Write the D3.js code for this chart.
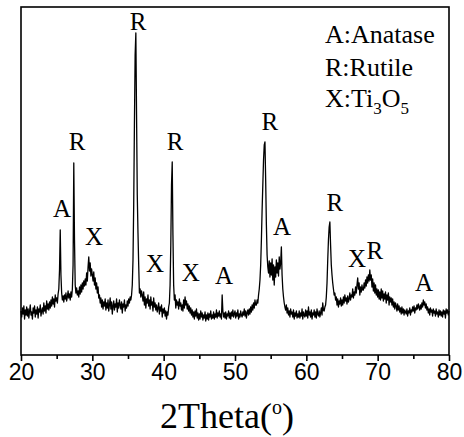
<!DOCTYPE html>
<html>
<head>
<meta charset="utf-8">
<script src="https://cdn.jsdelivr.net/npm/d3@7"></script>
<style>
  html, body { margin: 0; padding: 0; background: #fff; }
  svg { display: block; }
</style>
</head>
<body>
<svg id="chart" width="464" height="437"></svg>
<script>
// XRD pattern, 2θ from 20° to 80° sampled every 0.1° (arbitrary intensity units)
const twoThetaStart = 20;
const twoThetaStep = 0.1;
const intensity = [
  44,38,47,41,49,36,45,40,48,39,   // 20
  46,37,44,50,40,43,36,47,42,49,   // 21
  38,45,41,48,37,46,43,50,39,44,   // 22
  47,41,52,44,49,42,54,46,51,45,   // 23
  53,47,55,49,58,51,56,48,60,54,   // 24
  57,52,61,66,85,125,80,62,55,59,  // 25
  53,60,56,62,54,58,64,57,61,55,   // 26
  63,58,66,90,192,115,70,62,67,60, // 27
  64,58,68,61,70,63,72,66,74,69,   // 28
  76,70,82,74,88,98,84,92,79,86,   // 29
  80,74,83,70,77,66,72,62,68,57,   // 30
  60,52,57,48,55,46,53,49,56,45,   // 31
  52,47,55,44,50,57,46,53,41,49,   // 32
  54,45,51,48,56,43,52,47,55,50,   // 33
  46,53,42,51,48,55,44,50,47,54,   // 34
  49,56,52,58,55,60,70,95,150,230, // 35
  300,322,240,160,122,90,62,66,58,64, // 36
  60,54,63,50,58,47,56,52,60,49,   // 37
  55,46,58,50,53,44,57,48,52,45,   // 38
  50,43,47,52,41,48,44,50,38,46,   // 39
  42,47,39,44,36,43,40,48,52,70,   // 40
  110,170,193,120,70,55,60,47,55,50, // 41
  53,46,56,49,52,45,50,44,55,47,   // 42
  58,50,54,46,51,44,49,42,47,40,   // 43
  45,38,43,36,44,39,46,37,42,35,   // 44
  41,36,44,38,42,35,40,37,43,34,   // 45
  40,36,42,35,41,38,44,36,40,37,   // 46
  43,36,41,38,45,37,42,39,44,38,   // 47
  41,36,60,44,38,42,37,43,36,41,   // 48
  39,44,37,42,36,43,39,45,38,41,   // 49
  44,37,42,39,45,36,41,38,44,40,   // 50
  38,43,40,46,39,44,37,42,45,40,   // 51
  46,41,48,43,50,45,52,47,55,50,   // 52
  50,55,52,60,66,75,90,115,145,170, // 53
  195,210,213,175,130,100,88,82,94,78, // 54
  92,80,96,75,90,70,88,78,95,82,   // 55
  92,79,98,86,92,108,80,66,58,52,  // 56
  48,45,50,42,47,40,44,38,46,41,   // 57
  43,38,45,36,42,39,44,37,41,38,   // 58
  44,37,42,39,46,36,43,40,38,45,   // 59
  39,44,37,48,40,43,38,45,36,42,   // 60
  40,45,38,43,37,46,41,39,44,38,   // 61
  42,47,40,52,45,44,48,50,58,72,   // 62
  95,115,128,133,110,90,80,72,66,60, // 63
  62,55,58,50,56,48,54,51,57,49,   // 64
  55,50,58,52,60,54,57,51,59,53,   // 65
  56,62,55,60,58,66,57,63,60,68,   // 66
  62,70,77,66,72,60,68,63,70,65,   // 67
  65,72,67,75,69,78,72,80,74,85,   // 68
  75,80,68,76,64,72,62,70,60,66,   // 69
  58,65,56,63,55,66,57,64,54,61,   // 70
  56,63,52,60,55,62,50,58,53,57,   // 71
  50,56,48,53,46,52,49,44,51,45,   // 72
  49,43,47,41,48,42,46,40,45,43,   // 73
  41,46,39,44,42,47,40,45,43,48,   // 74
  44,49,42,47,45,50,46,51,48,45,   // 75
  50,46,52,48,55,50,53,47,51,45,   // 76
  48,42,46,40,47,43,45,39,46,42,   // 77
  44,39,46,41,43,38,45,40,44,39,   // 78
  43,38,45,41,44,37,46,42,45,40,   // 79
  44                               // 80
];

// Phase labels above the peaks
const peakLabels      = ["A", "R", "X", "R", "X", "R", "X", "A", "R", "A", "R", "X", "R", "A"];
const peakLabelTheta  = [25.75, 27.85, 30.23, 36.4, 38.8, 41.6, 43.8, 48.45, 54.9, 56.6, 64.0, 67.1, 69.6, 76.5];
const peakLabelHeight = [138, 205, 110, 325, 83, 205, 74, 71, 225, 120, 144, 88, 96, 64];

// Axis ticks
const majorTicks = [20, 30, 40, 50, 60, 70, 80];
const minorTicks = [25, 35, 45, 55, 65, 75];

// Legend entries, with subscripted formula parts
const legendLines = [
  [{ t: "A:Anatase" }],
  [{ t: "R:Rutile" }],
  [{ t: "X:Ti" }, { t: "3", sub: true }, { t: "O" }, { t: "5", sub: true }]
];

const svg = d3.select("#chart");
const plot = { left: 21, right: 449, top: 7, bottom: 355 };

const x = d3.scaleLinear().domain([20, 80]).range([plot.left, plot.right]);
const y = d3.scaleLinear().domain([0, 348]).range([plot.bottom, plot.top]);

const points = intensity.map((v, i) => [twoThetaStart + i * twoThetaStep, v]);

// Pattern trace
svg.append("path")
  .datum(points)
  .attr("fill", "none")
  .attr("stroke", "#000")
  .attr("stroke-width", 1.3)
  .attr("stroke-linejoin", "round")
  .attr("d", d3.line().x(d => x(d[0])).y(d => y(d[1])));

// Frame
svg.append("rect")
  .attr("x", plot.left).attr("y", plot.top)
  .attr("width", plot.right - plot.left).attr("height", plot.bottom - plot.top)
  .attr("fill", "none").attr("stroke", "#000").attr("stroke-width", 1.6);

// Bottom axis: major ticks with labels
const gx = svg.append("g")
  .attr("transform", `translate(0,${plot.bottom})`)
  .call(d3.axisBottom(x).tickValues(majorTicks).tickSize(6).tickPadding(3).tickFormat(d3.format("d")));
gx.select(".domain").remove();
gx.selectAll(".tick line").attr("stroke", "#000").attr("stroke-width", 1.6);
gx.selectAll(".tick text")
  .attr("font-family", "'Liberation Sans', Arial, sans-serif")
  .attr("font-size", 23)
  .attr("fill", "#000");

// Minor ticks
const gm = svg.append("g")
  .attr("transform", `translate(0,${plot.bottom})`)
  .call(d3.axisBottom(x).tickValues(minorTicks).tickSize(4).tickFormat(""));
gm.select(".domain").remove();
gm.selectAll(".tick line").attr("stroke", "#000").attr("stroke-width", 1.6);

// Axis title
const title = svg.append("text")
  .attr("x", 227).attr("y", 428)
  .attr("text-anchor", "middle")
  .attr("font-family", "'Liberation Serif', 'Times New Roman', serif")
  .attr("font-size", 36)
  .attr("fill", "#000");
title.append("tspan").text("2Theta(");
title.append("tspan").text("o").attr("font-size", 20).attr("dy", -14);
title.append("tspan").text(")").attr("dy", 14);

// Peak labels
svg.append("g")
  .selectAll("text")
  .data(peakLabels)
  .join("text")
  .attr("x", (d, i) => x(peakLabelTheta[i]))
  .attr("y", (d, i) => y(peakLabelHeight[i]))
  .attr("text-anchor", "middle")
  .attr("font-family", "'Liberation Serif', 'Times New Roman', serif")
  .attr("font-size", 25)
  .attr("fill", "#000")
  .text(d => d);

// Legend
const legendY = [43, 76, 107];
legendLines.forEach((parts, i) => {
  const t = svg.append("text")
    .attr("x", 325).attr("y", legendY[i])
    .attr("font-family", "'Liberation Serif', 'Times New Roman', serif")
    .attr("font-size", 26)
    .attr("fill", "#000");
  let shifted = false;
  parts.forEach(p => {
    const s = t.append("tspan").text(p.t);
    if (p.sub && !shifted) { s.attr("font-size", 17).attr("dy", 7); shifted = true; }
    else if (!p.sub && shifted) { s.attr("dy", -7); shifted = false; }
    else if (p.sub) { s.attr("font-size", 17); }
  });
});
</script>
</body>
</html>
